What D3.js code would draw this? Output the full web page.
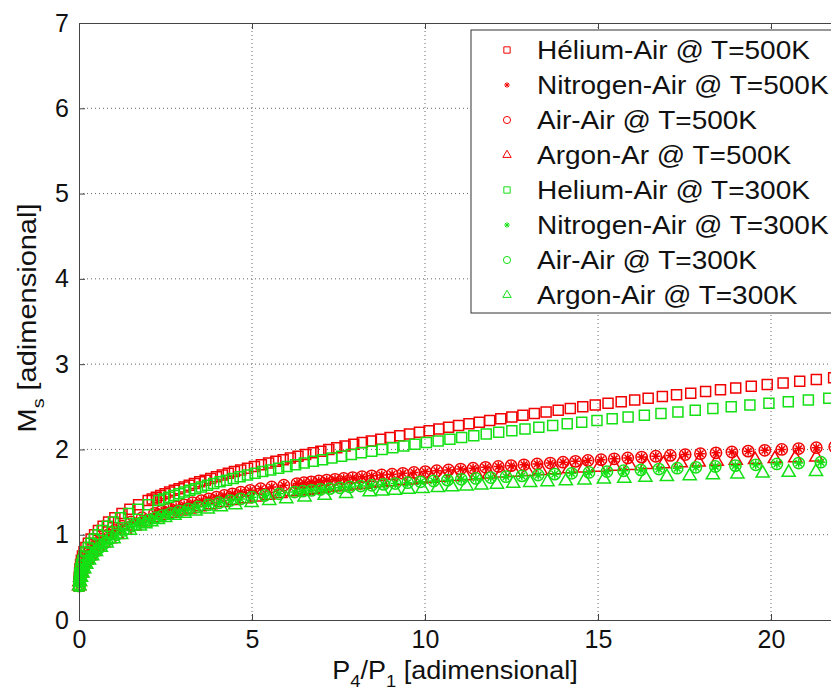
<!DOCTYPE html>
<html>
<head>
<meta charset="utf-8">
<script src="https://cdn.jsdelivr.net/npm/d3@7"></script>
<style>
body { margin: 0; background: #fff; }
text { font-family: "Liberation Sans", Arial, sans-serif; fill: #111; }
</style>
</head>
<body>
<svg id="chart" width="831" height="695"></svg>
<script>
// [P4/P1, Ms]
var heAir500 = [[0.001,0.40],[0.003,0.45],[0.008,0.50],[0.016,0.55],[0.028,0.60],[0.045,0.65],[0.068,0.70],[0.100,0.75],[0.145,0.80],[0.200,0.85],[0.270,0.90],[0.350,0.95],[0.450,1.00],[0.562,1.05],[0.697,1.10],[0.855,1.15],[1.037,1.20],[1.243,1.25],[1.471,1.30],[1.723,1.35],[1.999,1.40],
  [2.116,1.42],[2.236,1.44],[2.360,1.46],[2.488,1.48],[2.620,1.50],[2.756,1.52],[2.895,1.54],[3.038,1.56],[3.184,1.58],[3.335,1.60],[3.489,1.62],[3.647,1.64],[3.809,1.66],[3.974,1.68],[4.143,1.70],[4.316,1.72],[4.493,1.74],[4.673,1.76],
  [4.87,1.78],[5.07,1.80],[5.27,1.82],[5.48,1.84],[5.69,1.86],[5.90,1.88],[6.11,1.90],[6.33,1.92],[6.55,1.94],[6.77,1.96],[6.99,1.98],[7.22,2.00],[7.45,2.02],[7.69,2.04],[7.94,2.06],[8.19,2.08],[8.45,2.10],[8.72,2.12],[8.99,2.14],[9.27,2.16],[9.55,2.18],[9.84,2.20],
  [10.12,2.22],[10.40,2.24],[10.68,2.26],[10.97,2.28],[11.27,2.30],[11.57,2.32],[11.87,2.34],[12.19,2.36],[12.51,2.38],[12.83,2.40],[13.16,2.42],[13.50,2.44],[13.85,2.46],[14.20,2.48],[14.56,2.50],[14.92,2.52],[15.29,2.54],[15.67,2.56],[16.06,2.58],[16.45,2.60],[16.86,2.62],[17.27,2.64],[17.68,2.66],[18.11,2.68],[18.54,2.70],[18.98,2.72],[19.43,2.74],[19.89,2.76],[20.35,2.78],[20.83,2.80],[21.31,2.82],[21.81,2.84]];

var airAir500 = [[0.005,0.40],[0.015,0.45],[0.030,0.50],[0.050,0.55],[0.080,0.60],[0.120,0.65],[0.170,0.70],[0.230,0.75],[0.310,0.80],[0.410,0.85],[0.530,0.90],[0.670,0.95],[0.850,1.00],[1.023,1.05],[1.243,1.10],[1.509,1.15],[1.822,1.20],[2.181,1.25],[2.378,1.275],[2.587,1.30],[2.807,1.325],[3.039,1.35],[3.283,1.375],[3.538,1.40],[3.751,1.42],[3.970,1.44],[4.198,1.46],[4.433,1.48],[4.675,1.50],
  [4.95,1.52],[5.25,1.54],[5.57,1.56],[5.92,1.58],[6.30,1.60],[6.50,1.61],[6.71,1.62],[6.93,1.63],[7.16,1.64],[7.40,1.65],[7.65,1.66],[7.91,1.67],[8.18,1.68],[8.46,1.69],[8.75,1.70],[9.05,1.71],[9.36,1.72],[9.68,1.73],[10.01,1.74],[10.34,1.75],[10.68,1.76],[11.03,1.77],[11.39,1.78],[11.75,1.79],[12.12,1.80],[12.49,1.81],[12.86,1.82],[13.24,1.83],[13.62,1.84],
  [13.99,1.85],[14.35,1.86],[14.71,1.87],[15.09,1.88],[15.47,1.89],[15.86,1.90],[16.26,1.91],[16.67,1.92],[17.09,1.93],[17.52,1.94],[17.96,1.95],[18.41,1.96],[18.87,1.97],[19.34,1.98],[19.82,1.99],[20.31,2.00],[20.80,2.01],[21.31,2.02],[21.84,2.03]];

// the stars sit right on the circles in the picture
var nitrogenAir500 = airAir500;

var argonAir500 = [[0.004,0.40],[0.016,0.45],[0.035,0.50],[0.062,0.55],[0.100,0.60],[0.155,0.65],[0.220,0.70],[0.310,0.75],[0.420,0.80],[0.550,0.85],[0.710,0.90],[0.890,0.95],[1.100,1.00],[1.340,1.05],[1.610,1.10],[1.920,1.15],[2.270,1.20],[2.470,1.225],[2.673,1.25],[2.922,1.275],[3.190,1.30],[3.479,1.325],[3.790,1.35],[4.123,1.375],[4.482,1.40],
  [4.79,1.42],[5.11,1.44],[5.46,1.46],[5.82,1.48],[6.20,1.50],
  [6.40,1.51],[6.61,1.52],[6.82,1.53],[7.04,1.54],[7.26,1.55],[7.50,1.56],[7.73,1.57],[7.98,1.58],[8.23,1.59],[8.48,1.60],[8.75,1.61],[9.02,1.62],[9.30,1.63],[9.59,1.64],[9.89,1.65],[10.19,1.66],[10.51,1.67],[10.83,1.68],[11.16,1.69],[11.50,1.70],[11.85,1.71],[12.21,1.72],[12.58,1.73],[12.96,1.74],[13.35,1.75],[13.75,1.76],[14.16,1.77],[14.59,1.78],[15.02,1.79],[15.47,1.80],[15.93,1.81],[16.40,1.82],[16.89,1.83],[17.39,1.84],[17.91,1.85],[18.43,1.86],[18.98,1.87],[19.54,1.88],[20.11,1.89],[20.70,1.90],[21.31,1.91]];

var heAir300 = [[0.001,0.40],[0.004,0.45],[0.011,0.50],[0.023,0.55],[0.041,0.60],[0.066,0.65],[0.100,0.70],[0.145,0.75],[0.200,0.80],[0.270,0.85],[0.350,0.90],[0.440,0.95],[0.550,1.00],[0.669,1.05],[0.816,1.10],[0.993,1.15],[1.199,1.20],[1.434,1.25],[1.698,1.30],[1.991,1.35],[2.313,1.40],
  [2.450,1.42],[2.592,1.44],[2.738,1.46],[2.889,1.48],[3.045,1.50],[3.205,1.52],[3.370,1.54],[3.540,1.56],[3.714,1.58],[3.893,1.60],[4.077,1.62],[4.265,1.64],[4.458,1.66],[4.656,1.68],
  [4.87,1.70],[5.09,1.72],[5.31,1.74],[5.54,1.76],[5.77,1.78],[6.01,1.80],[6.26,1.82],[6.51,1.84],[6.77,1.86],[7.04,1.88],[7.31,1.90],[7.59,1.92],[7.87,1.94],[8.16,1.96],[8.46,1.98],[8.76,2.00],[9.07,2.02],[9.39,2.04],[9.71,2.06],[10.04,2.08],
  [10.38,2.10],[10.72,2.12],[11.06,2.14],[11.41,2.16],[11.77,2.18],[12.13,2.20],[12.51,2.22],[12.89,2.24],[13.29,2.26],[13.69,2.28],[14.11,2.30],[14.53,2.32],[14.97,2.34],[15.41,2.36],[15.87,2.38],[16.34,2.40],[16.82,2.42],[17.31,2.44],[17.81,2.46],[18.32,2.48],[18.85,2.50],[19.39,2.52],[19.94,2.54],[20.50,2.56],[21.08,2.58],[21.67,2.60]];

var airAir300 = [[0.008,0.40],[0.025,0.45],[0.050,0.50],[0.085,0.55],[0.130,0.60],[0.190,0.65],[0.270,0.70],[0.360,0.75],[0.470,0.80],[0.600,0.85],[0.740,0.90],[0.900,0.95],[1.080,1.00],[1.290,1.05],[1.520,1.10],[1.670,1.125],[1.840,1.15],[2.020,1.175],[2.210,1.20],[2.420,1.225],[2.650,1.25],[2.900,1.275],[3.160,1.30],[3.440,1.325],[3.740,1.35],[4.050,1.375],[4.370,1.40],
  [4.67,1.42],[5.00,1.44],[5.37,1.46],[5.78,1.48],[6.23,1.50],[6.47,1.51],[6.72,1.52],[6.98,1.53],[7.25,1.54],[7.54,1.55],[7.83,1.56],[8.14,1.57],[8.46,1.58],[8.80,1.59],[9.14,1.60],[9.50,1.61],[9.87,1.62],[10.25,1.63],[10.65,1.64],[11.05,1.65],[11.47,1.66],[11.90,1.67],[12.34,1.68],[12.80,1.69],[13.27,1.70],[13.75,1.71],[14.24,1.72],[14.74,1.73],[15.26,1.74],
  [15.74,1.75],[16.24,1.76],[16.76,1.77],[17.29,1.78],[17.83,1.79],[18.39,1.80],[18.97,1.81],[19.56,1.82],[20.17,1.83],[20.80,1.84],[21.44,1.85]];

var nitrogenAir300 = airAir300;

var argonAir300 = [[0.010,0.40],[0.030,0.45],[0.060,0.50],[0.100,0.55],[0.150,0.60],[0.210,0.65],[0.290,0.70],[0.380,0.75],[0.490,0.80],[0.630,0.85],[0.800,0.90],[1.000,0.95],[1.220,1.00],[1.470,1.05],[1.760,1.10],[1.920,1.125],[2.090,1.15],[2.280,1.175],[2.490,1.20],[2.760,1.225],[3.050,1.25],[3.370,1.275],[3.720,1.30],[4.100,1.325],[4.520,1.35],[4.990,1.375],[5.500,1.40],
  [5.99,1.42],[6.52,1.44],[7.10,1.46],[7.72,1.48],[8.40,1.50],
  [8.76,1.51],[9.13,1.52],[9.52,1.53],[9.93,1.54],[10.37,1.55],[10.78,1.56],[11.20,1.57],[11.63,1.58],[12.08,1.59],[12.55,1.60],[13.04,1.61],[13.54,1.62],[14.07,1.63],[14.61,1.64],[15.17,1.65],[15.76,1.66],[16.37,1.67],[16.99,1.68],[17.65,1.69],[18.32,1.70],[19.03,1.71],[19.76,1.72],[20.51,1.73],[21.30,1.74]];

var legendLabels = ["Hélium-Air @ T=500K", "Nitrogen-Air @ T=500K", "Air-Air @ T=500K", "Argon-Ar @ T=500K",
                    "Helium-Air @ T=300K", "Nitrogen-Air @ T=300K", "Air-Air @ T=300K", "Argon-Air @ T=300K"];
var xTicks = [0, 5, 10, 15, 20];
var yTicks = [0, 1, 2, 3, 4, 5, 6, 7];

var red = "#f20000", green = "#14e014";

// matlab style '*' marker
var symbolStar = {
  draw: function(ctx, size) {
    var r = Math.sqrt(size) / 2, d = r * 0.7071;
    ctx.moveTo(-r, 0); ctx.lineTo(r, 0);
    ctx.moveTo(0, -r); ctx.lineTo(0, r);
    ctx.moveTo(-d, -d); ctx.lineTo(d, d);
    ctx.moveTo(-d, d); ctx.lineTo(d, -d);
  }
};

var series = [
  {data: heAir500,       type: d3.symbolSquare,   size: 100, color: red},
  {data: nitrogenAir500, type: symbolStar,        size: 80,  color: red},
  {data: airAir500,      type: d3.symbolCircle,   size: 100, color: red},
  {data: argonAir500,    type: d3.symbolTriangle, size: 75,  color: red},
  {data: heAir300,       type: d3.symbolSquare,   size: 100, color: green},
  {data: nitrogenAir300, type: symbolStar,        size: 80,  color: green},
  {data: airAir300,      type: d3.symbolCircle,   size: 100, color: green},
  {data: argonAir300,    type: d3.symbolTriangle, size: 75,  color: green}
];

var x = d3.scaleLinear().domain([0, 22]).range([79, 79 + 22 * 34.6]);
var y = d3.scaleLinear().domain([0, 7]).range([620, 23]);

var svg = d3.select("#chart");
svg.append("rect").attr("width", 831).attr("height", 695).attr("fill", "#fff");

// dotted grid
svg.append("g").selectAll("line")
    .data(xTicks.filter(function(d) { return d > 0; }))
  .enter().append("line")
    .attr("x1", function(d) { return x(d); })
    .attr("x2", function(d) { return x(d); })
    .attr("y1", y(0)).attr("y2", y(7))
    .attr("stroke", "#666").attr("stroke-dasharray", "1,3");

svg.append("g").selectAll("line")
    .data(yTicks.filter(function(d) { return d > 0 && d < 7; }))
  .enter().append("line")
    .attr("x1", x(0)).attr("x2", x(22))
    .attr("y1", function(d) { return y(d); })
    .attr("y2", function(d) { return y(d); })
    .attr("stroke", "#666").attr("stroke-dasharray", "1,3");

// markers
series.forEach(function(s) {
  var sym = d3.symbol().type(s.type).size(s.size);
  svg.append("g").selectAll("path")
      .data(s.data)
    .enter().append("path")
      .attr("transform", function(d) { return "translate(" + x(d[0]) + "," + y(d[1]) + ")"; })
      .attr("d", sym)
      .attr("fill", "none")
      .attr("stroke", s.color)
      .attr("stroke-width", 1.5);
});

// axes, ticks inside like matlab
var xAxis = svg.append("g")
    .attr("transform", "translate(0,620)")
    .call(d3.axisBottom(x).tickValues(xTicks).tickFormat(d3.format("d"))
      .tickSizeInner(-6).tickSizeOuter(0).tickPadding(10));
var yAxis = svg.append("g")
    .attr("transform", "translate(79,0)")
    .call(d3.axisLeft(y).tickValues(yTicks).tickFormat(d3.format("d"))
      .tickSizeInner(-6).tickSizeOuter(0).tickPadding(10));
var topAxis = svg.append("g")
    .attr("transform", "translate(0,23)")
    .call(d3.axisTop(x).tickValues(xTicks).tickSizeInner(-6).tickSizeOuter(0).tickFormat(""));

[xAxis, yAxis, topAxis].forEach(function(a) {
  a.selectAll("path, line").attr("stroke", "#444");
  a.selectAll("text").attr("font-size", 25).attr("fill", "#111")
      .style("font-family", '"Liberation Sans", Arial, sans-serif');
});

// axis titles (the original type is a little wider than Liberation Sans)
var xt = svg.append("text").attr("transform", "translate(455,679) scale(1.08,1)")
    .attr("text-anchor", "middle").attr("font-size", 25);
xt.append("tspan").text("P");
xt.append("tspan").attr("dy", 8).attr("font-size", 17).text("4");
xt.append("tspan").attr("dy", -8).text("/P");
xt.append("tspan").attr("dy", 8).attr("font-size", 17).text("1");
xt.append("tspan").attr("dy", -8).text(" [adimensional]");

var yt = svg.append("text").attr("transform", "translate(36,318) rotate(-90) scale(1.16,1)")
    .attr("text-anchor", "middle").attr("font-size", 25);
yt.append("tspan").text("M");
yt.append("tspan").attr("dy", 8).attr("font-size", 17).text("s");
yt.append("tspan").attr("dy", -8).text(" [adimensional]");

// legend
var legend = svg.append("g");
legend.append("rect")
    .attr("x", 471).attr("y", 30).attr("width", 380).attr("height", 283)
    .attr("fill", "#fff").attr("stroke", "#333");

var row = legend.selectAll(".row")
    .data(series)
  .enter().append("g")
    .attr("transform", function(d, i) { return "translate(0," + (50 + i * 35) + ")"; });

row.append("path")
    .attr("transform", "translate(507,0)")
    .attr("d", function(d) { return d3.symbol().type(d.type).size(d.size * 0.4)(); })
    .attr("fill", "none")
    .attr("stroke", function(d) { return d.color; });

row.append("text")
    .attr("transform", "translate(537,0) scale(1.12,1)")
    .attr("dy", "0.35em")
    .attr("font-size", 25)
    .text(function(d, i) { return legendLabels[i]; });
</script>
</body>
</html>
